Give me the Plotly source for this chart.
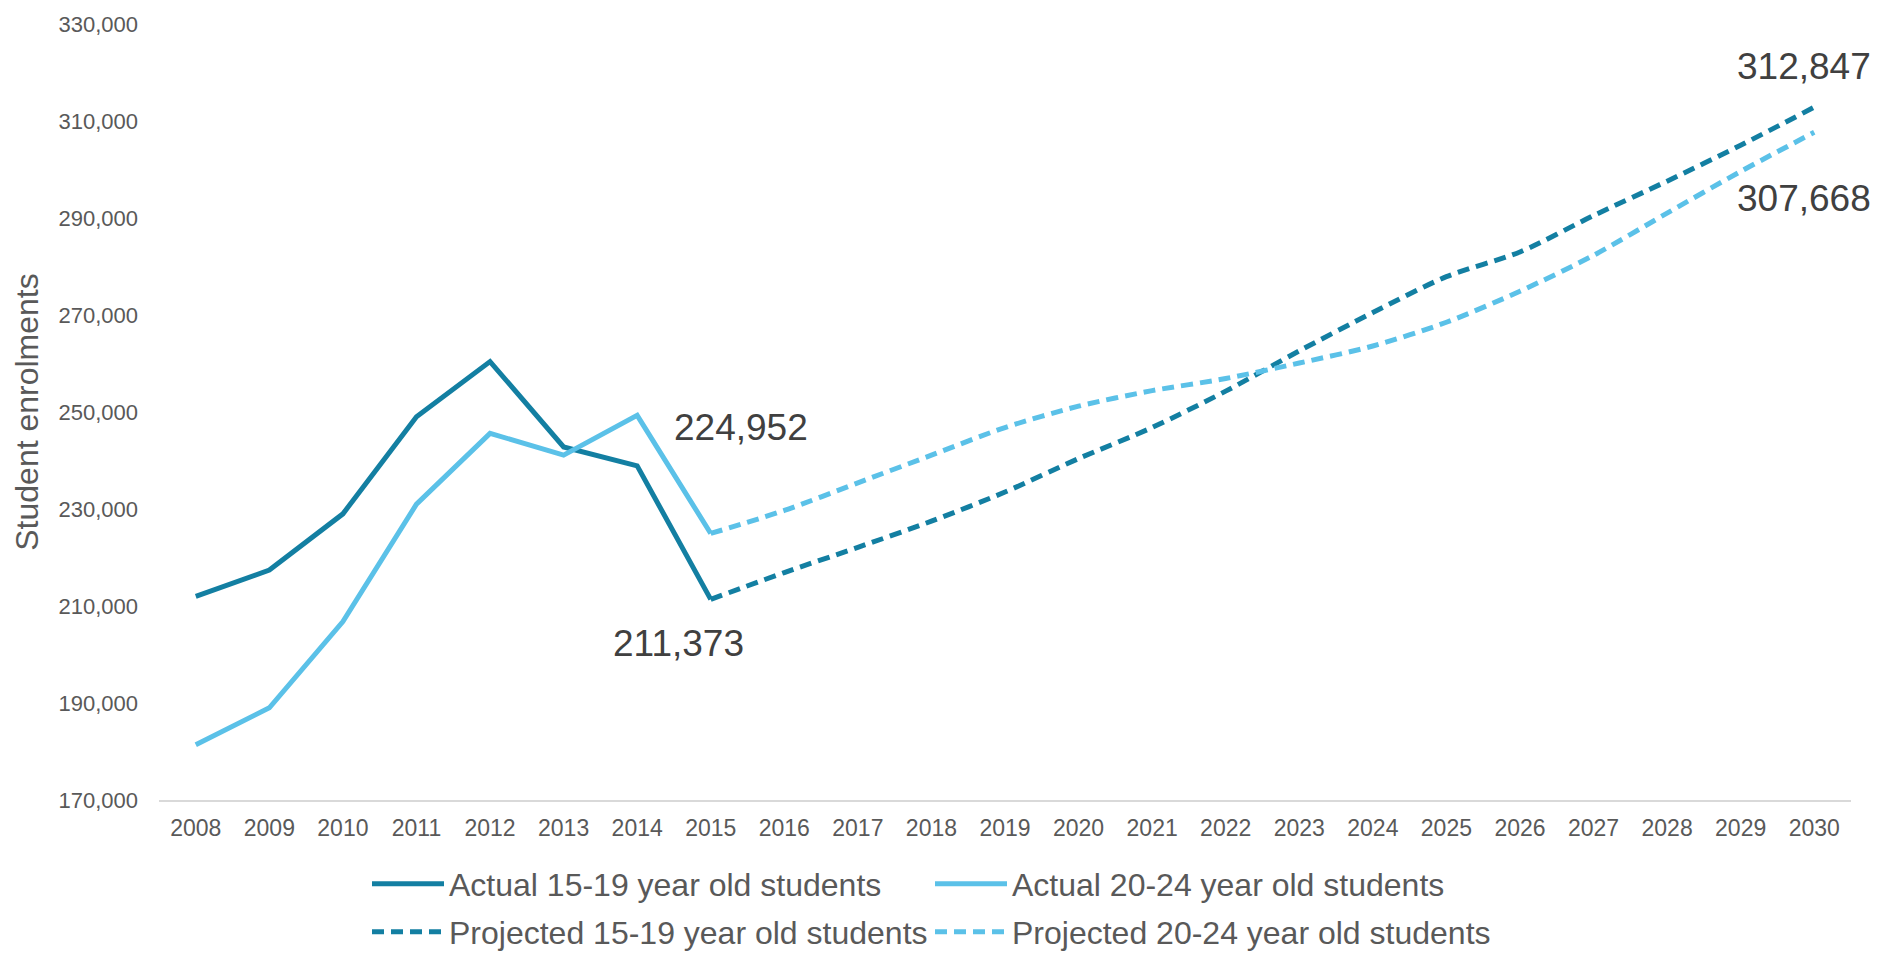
import plotly.graph_objects as go

years_actual = list(range(2008, 2016))
years_proj = list(range(2015, 2031))

actual_15_19 = [212000, 217400, 229000, 249000, 260400, 242800, 238900, 211373]
actual_20_24 = [181400, 189000, 206800, 231000, 245600, 241100, 249300, 224952]
proj_15_19 = [211373, 216900, 222100, 227500, 233500, 240400, 246800, 254300,
              262600, 270500, 277900, 283000, 290500, 297600, 305000, 312847]
proj_20_24 = [224952, 229700, 235400, 241100, 246800, 251200, 254400, 256900,
              260100, 263600, 268500, 274900, 282300, 291000, 299600, 307668]

tick_vals = list(range(170000, 330001, 20000))
tick_text = [f"{v:,}" for v in tick_vals]
year_ticks = list(range(2008, 2031))

DARK = "#137FA2"
LIGHT = "#5BC1E8"
FONT = "Liberation Sans, Arial, sans-serif"
LW = 5
DASH = "12px,7px"

fig = go.Figure()
fig.add_trace(go.Scatter(x=years_actual, y=actual_15_19, mode="lines",
                         name="Actual 15-19 year old students", legend="legend",
                         line=dict(color=DARK, width=LW)))
fig.add_trace(go.Scatter(x=years_actual, y=actual_20_24, mode="lines",
                         name="Actual 20-24 year old students", legend="legend",
                         line=dict(color=LIGHT, width=LW)))
fig.add_trace(go.Scatter(x=years_proj, y=proj_15_19, mode="lines",
                         name="Projected 15-19 year old students", legend="legend2",
                         line=dict(color=DARK, width=LW, dash=DASH, shape="spline", smoothing=0.8)))
fig.add_trace(go.Scatter(x=years_proj, y=proj_20_24, mode="lines",
                         name="Projected 20-24 year old students", legend="legend2",
                         line=dict(color=LIGHT, width=LW, dash=DASH, shape="spline", smoothing=0.8)))

ann_font = dict(family=FONT, size=37, color="#404040")
annots = [
    (years_actual[-1], actual_20_24[-1], 30, 106),
    (years_actual[-1], actual_15_19[-1], -32, -44),
    (years_proj[-1], proj_15_19[-1], -10, 41),
    (years_proj[-1], proj_20_24[-1], -10, -66),
]
for x, y, xs, ys in annots:
    fig.add_annotation(x=x, y=y, text=f"{y:,}", showarrow=False,
                       xshift=xs, yshift=ys, font=ann_font)

leg_common = dict(orientation="h", xref="container", yref="container",
                  x=367 / 1886, xanchor="left", yanchor="middle",
                  entrywidth=476, entrywidthmode="pixels", itemwidth=72,
                  font=dict(family=FONT, size=32, color="#595959"),
                  bgcolor="rgba(0,0,0,0)")

fig.update_layout(
    width=1886, height=953,
    paper_bgcolor="white", plot_bgcolor="white",
    margin=dict(l=159, r=35, t=19, b=153),
    font=dict(family=FONT, color="#595959"),
    showlegend=True,
    legend=dict(leg_common, y=1 - 884 / 953),
    legend2=dict(leg_common, y=1 - 932 / 953),
    xaxis=dict(range=[2007.5, 2030.5], tickmode="array", tickvals=year_ticks,
               showgrid=False, zeroline=False, showline=True, linecolor="#D9D9D9",
               linewidth=2, ticks="", ticklabelstandoff=6,
               tickfont=dict(family=FONT, size=23, color="#595959")),
    yaxis=dict(range=[170000, 330000], tickmode="array", tickvals=tick_vals,
               ticktext=tick_text, showgrid=False, zeroline=False, showline=False,
               ticks="", ticklabelstandoff=20,
               tickfont=dict(family=FONT, size=22, color="#595959"),
               title=dict(text="Student enrolments", standoff=10,
                          font=dict(family=FONT, size=32, color="#595959"))),
)

fig.write_html("out.html")
